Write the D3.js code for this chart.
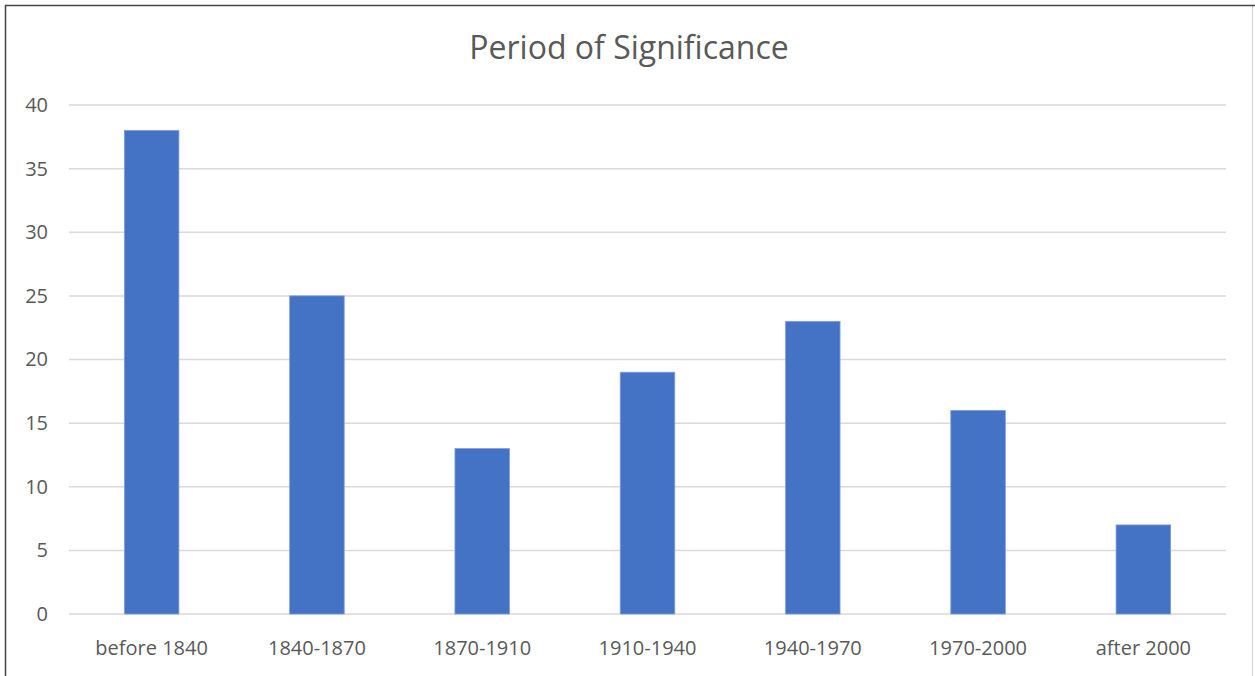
<!DOCTYPE html>
<html>
<head>
<meta charset="utf-8">
<script src="https://cdn.jsdelivr.net/npm/d3@7"></script>
<style>
  body { margin: 0; background: #fff; }
  svg text { font-family: "Open Sans", sans-serif; fill: #595959; }
</style>
</head>
<body>
<svg id="canvas"></svg>
<script>
var categories = ["before 1840", "1840-1870", "1870-1910", "1910-1940", "1940-1970", "1970-2000", "after 2000"];
var counts = [38, 25, 13, 19, 23, 16, 7];
var yTicks = [0, 5, 10, 15, 20, 25, 30, 35, 40];

var W = 1255, H = 676;
var margin = {top: 105, right: 29, bottom: 62, left: 69};
var width = W - margin.left - margin.right;
var height = H - margin.top - margin.bottom;

var svg = d3.select("#canvas").attr("width", W).attr("height", H);

// frame
svg.append("rect").attr("x", 5.5).attr("y", 5.5).attr("width", 1247).attr("height", 680)
  .attr("fill", "none").attr("stroke", "#d0d0d0");
svg.append("line").attr("x1", 5.5).attr("x2", 5.5).attr("y1", 5).attr("y2", H).attr("stroke", "#444").attr("stroke-width", 1.5);
svg.append("line").attr("x1", 5).attr("x2", W).attr("y1", 5.5).attr("y2", 5.5).attr("stroke", "#444").attr("stroke-width", 1.5);

svg.append("text").text("Period of Significance")
  .attr("x", 629).attr("y", 59)
  .style("font-size", "32px")
  .style("text-anchor", "middle");

var g = svg.append("g").attr("transform", "translate(" + margin.left + "," + margin.top + ")");

var x = d3.scaleBand().domain(categories).range([0, width]).paddingInner(0.67).paddingOuter(0.335);
var y = d3.scaleLinear().domain([0, 40]).range([height, 0]);

// gridlines
g.selectAll(".grid").data(yTicks).enter().append("line")
  .attr("class", "grid")
  .attr("x1", 0).attr("x2", width)
  .attr("y1", function(d) { return y(d); })
  .attr("y2", function(d) { return y(d); })
  .attr("stroke", "#d9d9d9").attr("stroke-width", 1.5);

// y axis labels
var yAxis = d3.axisLeft(y).tickValues(yTicks).tickSize(0).tickPadding(21);
var ya = g.append("g").call(yAxis);
ya.select(".domain").remove();
ya.selectAll("text").style("font-size", "20px").attr("fill", "#595959");

// bars
g.selectAll(".bar").data(counts).enter().append("rect")
  .attr("class", "bar")
  .attr("x", function(d, i) { return x(categories[i]); })
  .attr("y", function(d) { return y(d); })
  .attr("width", x.bandwidth())
  .attr("height", function(d) { return height - y(d); })
  .attr("fill", "#4472c4")
  .attr("stroke", "#7d9fd8").attr("stroke-width", 0.8);

// x axis labels
var xAxis = d3.axisBottom(x).tickSize(0);
var xa = g.append("g").attr("transform", "translate(0," + height + ")").call(xAxis);
xa.select(".domain").remove();
xa.selectAll("text").attr("y", 41).attr("dy", 0)
  .style("font-size", "20px").attr("fill", "#595959");
</script>
</body>
</html>
